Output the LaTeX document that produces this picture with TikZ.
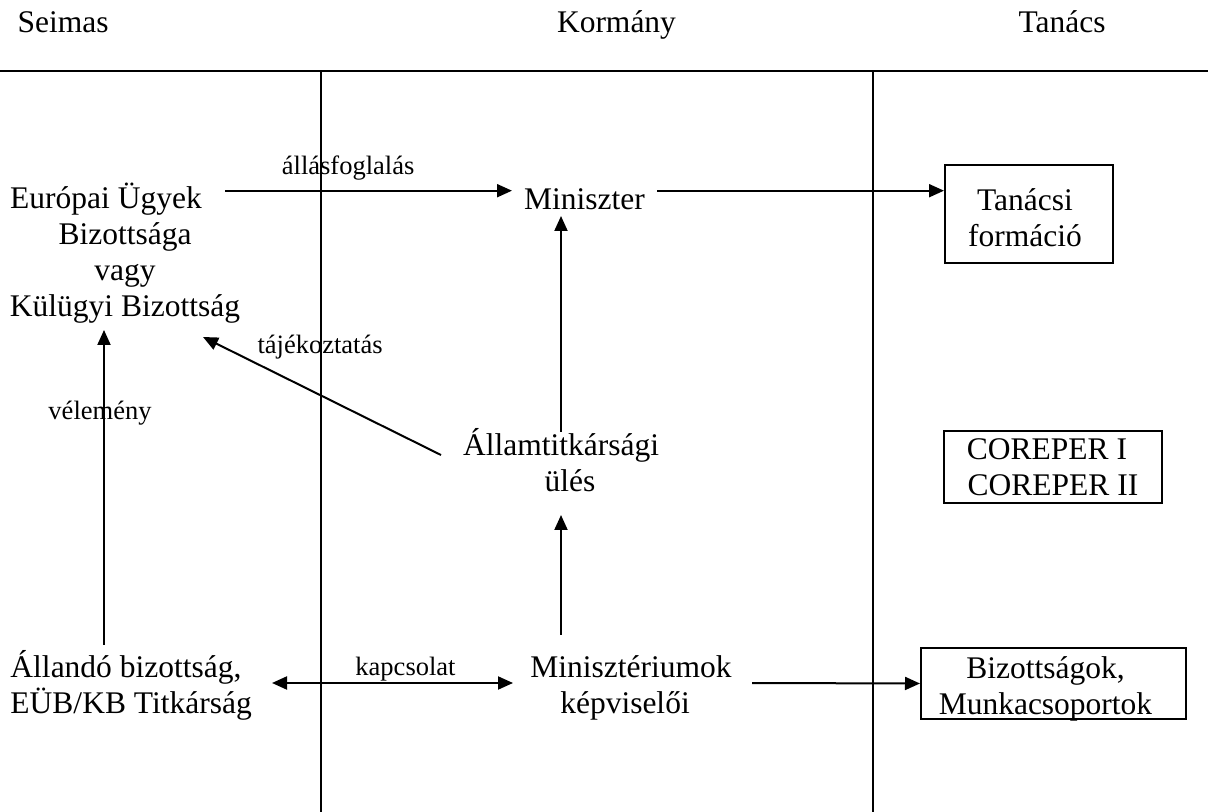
\documentclass[tikz,border=0pt]{standalone}
\usepackage{fontspec}
\setmainfont{Liberation Serif}
\usetikzlibrary{arrows.meta}
% lower a line of text inside a box without changing the box size
\newcommand\dropline[2]{\raisebox{-#1}[\height][\depth]{#2}}
\begin{document}
\begin{tikzpicture}[x=0.4pt,y=-0.4pt,
  txt/.style={inner sep=0pt, font=\fontsize{12.6pt}{14.4pt}\selectfont, align=center, anchor=base},
  lbl/.style={inner sep=0pt, font=\fontsize{10.6pt}{12.7pt}\selectfont, anchor=base},
  box/.style={draw, line width=0.8pt, inner sep=0pt, font=\fontsize{12.6pt}{14.4pt}\selectfont, align=center},
  arr/.style={line width=0.8pt, -{Triangle[length=6pt,width=5.2pt]}},
  dblarr/.style={line width=0.8pt, {Triangle[length=6pt,width=5.2pt]}-{Triangle[length=6pt,width=5.2pt]}},
  rule/.style={line width=0.9pt}]
\useasboundingbox (0,0) rectangle (1208,812);

% column headings and separating rules
\node[txt, anchor=base west] (seimas) at (17,33) {Seimas};
\node[txt] (kormany) at (616.5,33) {Kormány};
\node[txt] (tanacs) at (1062,33) {Tanács};
\draw[rule] (0,70.7) -- (1208,70.7);
\draw[rule] (321,70.7) -- (321,812);
\draw[rule] (873,70.7) -- (873,812);

% Seimas column (multi-line nodes sit on the baseline of their last line)
\node[txt] (eub) at (125,317)
  {Európai Ügyek\hspace*{15.2pt}\\Bizottsága\hspace*{15.2pt}\\vagy\hspace*{15.2pt}\\Külügyi Bizottság};
\node[txt, align=left, anchor=base west] (allando) at (10,713)
  {Állandó bizottság,\\EÜB/KB Titkárság};

% Kormány column
\node[txt] (min) at (584.5,210) {Miniszter};
\node[txt] (allt) at (561,492) {Államtitkársági\\\hspace*{7.2pt}ülés};
\node[txt] (minrep) at (631,713) {Minisztériumok\\képviselői\hspace*{4.8pt}};

% Tanács column
\node[box, minimum width=67.2pt, minimum height=39.2pt] (tanacsi) at (1029,214)
  {\dropline{1.4pt}{Tanácsi}\hspace*{3.2pt}\\\dropline{1.4pt}{formáció}\hspace*{3.2pt}};
\node[box, minimum width=87.2pt, minimum height=28.8pt] (coreper) at (1053,467)
  {COREPER I\hspace*{4.8pt}\\COREPER II};
\node[box, minimum width=106pt, minimum height=28.4pt] (biz) at (1053.5,683.5)
  {\dropline{2pt}{Bizottságok,}\hspace*{6.4pt}\\\dropline{2pt}{Munkacsoportok}\hspace*{6.4pt}};

% connectors
\draw[arr] ([shift={(100,-126.3)}]eub.base) -- ([shift={(-72.5,-19.3)}]min.base)
  node[lbl, pos=0.429, yshift=6.3pt] (lbl1) {állásfoglalás};
\draw[arr] ([shift={(72.5,-19.3)}]min.base) -- ([shift={(0,-23.3)}]tanacsi.west);
\draw[arr] ([shift={(0,-60)}]allt.base) -- ([shift={(-23.5,6)}]min.base);
\draw[arr] ([shift={(-120,-37)}]allt.base) -- ([shift={(78,20)}]eub.base)
  node[lbl, pos=0.508, yshift=16.8pt] (lbl2) {tájékoztatás};
\draw[arr] ([shift={(94,-68)}]allando.base west) -- ([shift={(-21,13)}]eub.base)
  node[lbl, pos=0.717, xshift=-1.6pt] (lbl3) {vélemény};
\draw[arr] ([shift={(-70,-78)}]minrep.base) -- ([shift={(0,23)}]allt.base);
\draw[dblarr] ([shift={(262,-30)}]allando.base west) -- ([shift={(-118,-30)}]minrep.base)
  node[lbl, pos=0.554, yshift=3.2pt] (lbl4) {kapcsolat};
\draw[arr] ([shift={(121,-30)}]minrep.base) -- (biz.west);
\end{tikzpicture}
\end{document}
